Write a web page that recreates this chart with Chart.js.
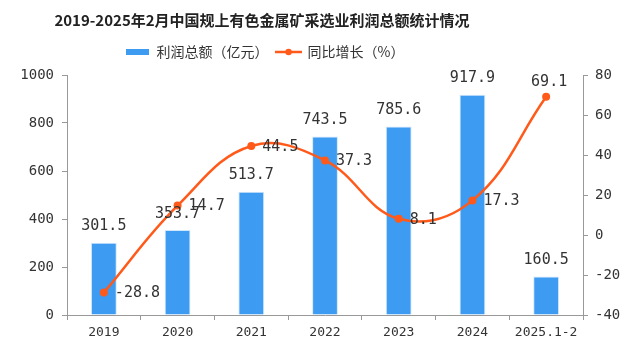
<!DOCTYPE html>
<html><head><meta charset="utf-8">
<script src="https://cdn.jsdelivr.net/npm/chart.js@4/dist/chart.umd.min.js"></script>
<style>html,body{margin:0;padding:0;background:#fff}#wrap{width:640px;height:343px}</style>
</head><body><div id="wrap"><canvas id="c"></canvas></div>
<script>
const categories = ['2019','2020','2021','2022','2023','2024','2025.1-2'];
const profit = [301.5, 353.7, 513.7, 743.5, 785.6, 917.9, 160.5];
const growth = [-28.8, 14.7, 44.5, 37.3, 8.1, 17.3, 69.1];
const titleText = '2019-2025年2月中国规上有色金属矿采选业利润总额统计情况';
const barLabel = '利润总额（亿元）';
const lineLabel = '同比增长（%）';

const BAR = '#3d9bf1', LINE = '#ff5a1a';
const MONO = '"DejaVu Sans Mono", monospace';
const CJK = '"Noto Sans CJK SC", sans-serif';

function barIcon(){const c=document.createElement('canvas');c.width=23;c.height=6;const g=c.getContext('2d');g.fillStyle=BAR;g.fillRect(0,0,23,6);return c;}
function lineIcon(){const c=document.createElement('canvas');c.width=27;c.height=10;const g=c.getContext('2d');g.strokeStyle=LINE;g.lineWidth=2.5;g.beginPath();g.moveTo(0,5);g.lineTo(27,5);g.stroke();g.fillStyle=LINE;g.beginPath();g.arc(13.5,5,3.2,0,Math.PI*2);g.fill();return c;}

const labelPlugin = {
  id:'vlabels',
  afterDatasetsDraw(chart){
    const ctx=chart.ctx;
    ctx.save();
    ctx.fillStyle='#333';
    ctx.font='15px '+MONO;
    const mb=chart.getDatasetMeta(0);
    mb.data.forEach((el,i)=>{
      ctx.textAlign='center';ctx.textBaseline='bottom';
      ctx.fillText(profit[i].toFixed(1), el.x, el.y-9);
    });
    const ml=chart.getDatasetMeta(1);
    ml.data.forEach((el,i)=>{
      if(i===ml.data.length-1){
        ctx.textAlign='center';ctx.textBaseline='bottom';
        ctx.fillText(growth[i].toFixed(1), el.x+3, el.y-7);
      } else {
        ctx.textAlign='left';ctx.textBaseline='middle';
        ctx.fillText(growth[i].toFixed(1), el.x+11, el.y+1);
      }
    });
    ctx.restore();
  }
};
const shiftPlugin = {
  id:'shift',
  afterLayout(chart){
    const t=chart.titleBlock, l=chart.legend;
    if(t){t.left=0;t.right=524;}
    if(l){l.left=0;l.right=530;}
  }
};

new Chart(document.getElementById('c'),{
  data:{
    labels:categories,
    datasets:[
      {type:'bar',label:barLabel,data:profit,xAxisID:'x',yAxisID:'y',backgroundColor:BAR,borderColor:'#cfe6fc',borderWidth:1,
       barPercentage:0.35,categoryPercentage:1,order:2},
      {type:'line',label:lineLabel,data:growth,xAxisID:'x',yAxisID:'y1',borderColor:LINE,backgroundColor:LINE,borderWidth:2.5,
       pointRadius:4,pointBackgroundColor:LINE,pointBorderWidth:0,tension:0.4,order:1}
    ]
  },
  options:{
    responsive:true,maintainAspectRatio:false,animation:false,
    layout:{padding:0},
    plugins:{
      title:{display:true,text:titleText,color:'#222',font:{family:CJK,size:15,weight:'bold'},padding:{top:11,bottom:8}},
      legend:{display:true,position:'top',labels:{
        usePointStyle:true,pointStyleWidth:24,padding:8,color:'#333',font:{family:CJK,size:14},
        generateLabels(chart){return [
          {text:barLabel,pointStyle:barIcon(),datasetIndex:0,fillStyle:BAR,strokeStyle:BAR,lineWidth:0,fontColor:'#333'},
          {text:lineLabel,pointStyle:lineIcon(),datasetIndex:1,fillStyle:LINE,strokeStyle:LINE,lineWidth:0,fontColor:'#333'}
        ];}
      }},
      tooltip:{enabled:false}
    },
    scales:{
      x:{grid:{display:true,offset:true,drawOnChartArea:false,tickLength:5,color:'#999'},border:{color:'#999'},
         ticks:{color:'#333',font:{family:MONO,size:13},padding:5,maxRotation:0,autoSkip:false},
         afterFit(s){s.height=28;}},
      gap:{type:'category',position:'top',offset:true,display:true,grid:{display:false},border:{display:false},ticks:{display:false},
         afterFit(s){s.height=6;}},
      y:{position:'left',min:0,max:1000,grid:{drawOnChartArea:false,tickLength:5,color:'#999'},border:{color:'#999'},
         ticks:{stepSize:200,color:'#333',font:{family:MONO,size:14},padding:8,callback:(v)=>String(v)},
         afterFit(s){s.width=67;}},
      y1:{position:'right',min:-40,max:80,grid:{drawOnChartArea:false,tickLength:5,color:'#999'},border:{color:'#999'},
         ticks:{stepSize:20,color:'#333',font:{family:MONO,size:14},padding:7},
         afterFit(s){s.width=57;}}
    }
  },
  plugins:[labelPlugin,shiftPlugin]
});
</script></body></html>
